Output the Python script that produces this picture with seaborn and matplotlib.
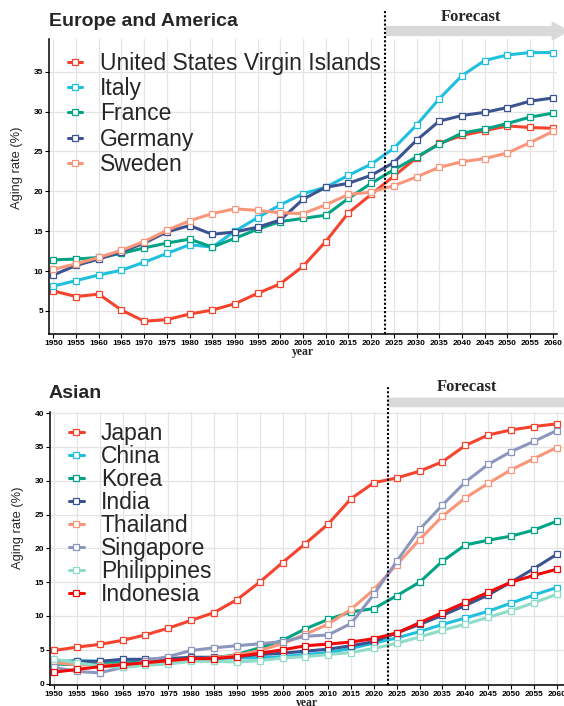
import numpy as np
import pandas as pd
import seaborn as sns
import matplotlib.pyplot as plt
import matplotlib.transforms as mtransforms
from matplotlib.patches import FancyArrow

# ---- data ----
years = [1950, 1955, 1960, 1965, 1970, 1975, 1980, 1985, 1990, 1995, 2000, 2005,
         2010, 2015, 2020, 2025, 2030, 2035, 2040, 2045, 2050, 2055, 2060]

# Europe and America
usvi = [7.5, 6.8, 7.1, 5.1, 3.7, 3.9, 4.6, 5.1, 5.9, 7.2, 8.4, 10.6, 13.7, 17.3, 19.6,
        21.9, 24.2, 26.0, 27.0, 27.6, 28.2, 28.0, 27.9]
italy = [8.1, 8.8, 9.5, 10.1, 11.1, 12.2, 13.3, 13.0, 15.0, 16.7, 18.3, 19.7, 20.5, 22.0,
         23.4, 25.4, 28.3, 31.6, 34.5, 36.4, 37.1, 37.4, 37.4]
france = [11.4, 11.5, 11.7, 12.2, 12.9, 13.5, 14.0, 13.0, 14.1, 15.25, 16.2, 16.6, 17.0,
          19.1, 21.0, 22.7, 24.3, 25.9, 27.3, 27.8, 28.5, 29.3, 29.8]
germany = [9.5, 10.7, 11.5, 12.4, 13.5, 14.9, 15.7, 14.6, 14.9, 15.5, 16.4, 19.0, 20.5,
           21.0, 22.0, 23.6, 26.4, 28.8, 29.5, 29.9, 30.5, 31.3, 31.7]
sweden = [10.2, 10.9, 11.7, 12.6, 13.7, 15.1, 16.3, 17.2, 17.8, 17.6, 17.3, 17.2, 18.3,
          19.6, 19.9, 20.7, 21.8, 23.0, 23.7, 24.1, 24.8, 26.1, 27.5]

# Asian
japan = [4.9, 5.4, 5.8, 6.4, 7.2, 8.2, 9.35, 10.5, 12.4, 15.0, 17.9, 20.7, 23.6, 27.35,
         29.7, 30.4, 31.4, 32.8, 35.2, 36.75, 37.5, 38.0, 38.4]
china = [3.3, 3.4, 3.3, 3.3, 3.3, 3.5, 3.6, 3.7, 3.8, 3.8, 4.0, 4.3, 4.6, 5.2, 6.0, 6.75,
         7.7, 8.75, 9.7, 10.7, 11.9, 13.1, 14.2]
korea = [2.9, 2.8, 2.9, 3.0, 3.2, 3.4, 3.7, 3.8, 4.3, 5.3, 6.4, 8.1, 9.5, 10.6, 11.1, 13.0,
         15.0, 18.1, 20.5, 21.2, 21.8, 22.7, 24.0]
india = [3.2, 3.3, 3.3, 3.6, 3.6, 3.7, 3.9, 3.9, 4.0, 4.3, 4.5, 4.8, 5.1, 5.6, 6.2, 7.5,
         8.75, 10.1, 11.55, 13.1, 15.0, 17.0, 19.1]
thailand = [3.1, 2.8, 2.7, 2.8, 3.0, 3.25, 3.6, 3.8, 4.2, 4.9, 5.9, 7.3, 8.8, 11.0, 13.9,
            17.6, 21.3, 24.75, 27.45, 29.6, 31.6, 33.25, 34.9]
singapore = [2.4, 1.8, 1.6, 2.4, 3.4, 4.0, 4.9, 5.3, 5.6, 5.9, 6.2, 7.0, 7.2, 8.9, 13.2,
             18.1, 22.8, 26.4, 29.8, 32.4, 34.3, 35.8, 37.4]
philippines = [3.6, 3.1, 2.6, 2.4, 2.7, 2.9, 3.3, 3.3, 3.2, 3.4, 3.8, 4.0, 4.3, 4.6, 5.2,
               5.95, 6.9, 7.9, 8.8, 9.8, 10.8, 11.95, 13.2]
indonesia = [1.7, 2.1, 2.5, 2.8, 3.1, 3.4, 3.7, 3.7, 4.0, 4.5, 5.0, 5.6, 5.85, 6.15, 6.65,
             7.5, 9.0, 10.5, 12.0, 13.5, 15.0, 16.0, 16.9]

west_names = ['United States Virgin Islands', 'Italy', 'France', 'Germany', 'Sweden']
west_vals = [usvi, italy, france, germany, sweden]
asia_names = ['Japan', 'China', 'Korea', 'India', 'Thailand', 'Singapore',
              'Philippines', 'Indonesia']
asia_vals = [japan, china, korea, india, thailand, singapore, philippines, indonesia]

forecast_start = 2023

red1 = '#F5432E'
cyan = '#1FBFDD'
green = '#00A383'
navy = '#3B5390'
salmon = '#F9967A'
lav = '#8D97BE'
teal = '#8FDCC8'
red2 = '#F00A0A'
west_pal = [red1, cyan, green, navy, salmon]
asia_pal = [red1, cyan, green, navy, salmon, lav, teal, red2]


def to_long(names, vals):
    rows = []
    for n, v in zip(names, vals):
        for y, a in zip(years, v):
            rows.append((n, y, a))
    return pd.DataFrame(rows, columns=['country', 'year', 'rate'])


sns.set_style('whitegrid')
plt.rcParams['font.family'] = ['Liberation Sans', 'DejaVu Sans']

fig = plt.figure(figsize=(5.64, 7.06), dpi=100)
W, H = 564, 706
ax1 = fig.add_axes([49.3 / W, 1 - 334 / H, (556.8 - 49.3) / W, 295 / H])
ax2 = fig.add_axes([50.4 / W, 1 - 685 / H, (564 - 50.4) / W, 273 / H])


def draw(ax, names, vals, pal, xlim, ylim, yticks, title, title_y,
         bar_y, bar_len, fc_x, fc_y, leg_y, leg_sp, ylab_y):
    df = to_long(names, vals)
    sns.lineplot(data=df, x='year', y='rate', hue='country', hue_order=names,
                 palette=pal, marker='s', markersize=3.9, lw=2.2,
                 legend=False, ax=ax)
    for ln, c in zip(ax.lines, pal):
        ln.set_markerfacecolor('white')
        ln.set_markeredgecolor(c)
        ln.set_markeredgewidth(0.9)
    ax.set_xlim(xlim)
    ax.set_ylim(ylim)
    ax.set_xticks(years)
    ax.set_xticklabels([str(y) for y in years])
    ax.set_yticks(yticks)
    ax.tick_params(axis='both', labelsize=6, length=3, width=0.8, pad=1.5,
                   colors='black', left=True, bottom=True)
    for t in ax.get_xticklabels() + ax.get_yticklabels():
        t.set_fontweight('bold')
    ax.grid(True, color='#E4E4E4', lw=0.9)
    for s in ['top', 'right']:
        ax.spines[s].set_visible(False)
    for s in ['left', 'bottom']:
        ax.spines[s].set_color('black')
        ax.spines[s].set_linewidth(1.1)
    ax.set_xlabel('year', family='Liberation Serif', fontweight='bold',
                  fontsize=8.5, labelpad=-1)
    ax.set_ylabel('Aging rate (%)', fontsize=9.3)
    ax.yaxis.set_label_coords(-0.052, ylab_y)

    handles = list(ax.lines[:len(names)])
    ax.legend(handles, names, loc='upper left', bbox_to_anchor=(0.036, leg_y),
              frameon=False, fontsize=16.5, handlelength=0.65, handletextpad=0.75,
              labelspacing=leg_sp, borderpad=0, borderaxespad=0)

    # forecast marker
    ax.axvline(forecast_start, ymin=0, ymax=1.1, color='black', ls=(0, (1, 1)),
               lw=1.5, clip_on=False, zorder=5)
    tr = mtransforms.blended_transform_factory(ax.transData, ax.transAxes)
    ax.add_patch(FancyArrow(forecast_start + 0.3, bar_y, bar_len, 0,
                            width=0.03, head_width=0.06, head_length=3.5,
                            length_includes_head=True, color='#D9D9D9',
                            transform=tr, clip_on=False))
    ax.text(fc_x, fc_y, 'Forecast', transform=tr, ha='center', va='center',
            family='Liberation Serif', fontweight='bold', fontsize=12)
    fig.text(49 / W, title_y, title, fontsize=14, fontweight='bold',
             ha='left', va='center')


draw(ax1, west_names, west_vals, west_pal, (1949.1, 2060.9), (2.1, 39.1),
     [5, 10, 15, 20, 25, 30, 35], 'Europe and America', 1 - 21 / H,
     1.027, 40.1, 2041.9, 1.075, 0.957, 0.1, 0.564)
draw(ax2, asia_names, asia_vals, asia_pal, (1949.2, 2061.6), (-0.2, 40.15),
     [0, 5, 10, 15, 20, 25, 30, 35, 40], 'Asian', 1 - 393 / H,
     1.035, 45.0, 2040.3, 1.092, 0.962, 0.0, 0.575)

fig.savefig('out.png', dpi=100)
